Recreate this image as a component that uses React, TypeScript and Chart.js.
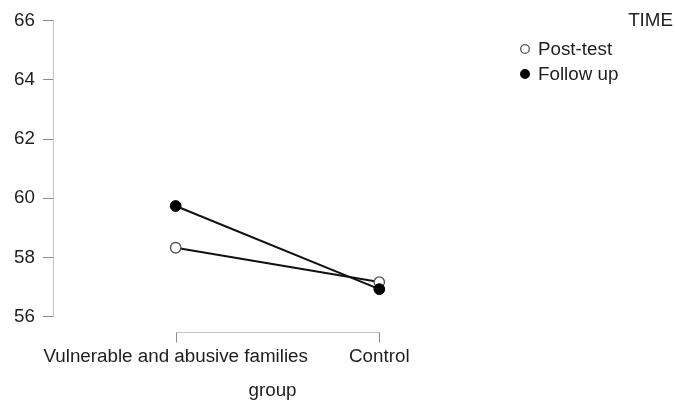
import React, { useEffect, useRef } from "react";
import { Chart, registerables } from "chart.js";

Chart.register(...registerables);

const groups = ["Vulnerable and abusive families", "Control"];
const postTest = [58.33, 57.17];
const followUp = [59.74, 56.93];
const yMin = 56;
const yMax = 66;
const yStep = 2;
const seriesNames = ["Post-test", "Follow up"];
const legendTitle = "TIME";
const xTitle = "group";

const FONT = "'Liberation Sans', Arial, Helvetica, sans-serif";
const FSIZE = 18.8;
const TEXT = "#1e1e1e";

const xAxisPlugin = {
  id: "customXAxis",
  afterDraw(chart: any) {
    const { ctx, chartArea } = chart;
    const xs = chart.scales.x;
    const y0 = Math.round(chartArea.bottom + 15) + 0.5;
    const px = groups.map((_, i) => Math.round(xs.getPixelForValue(i)) + 0.5);
    ctx.save();
    ctx.lineWidth = 1;
    ctx.strokeStyle = "#c4c4c4";
    ctx.beginPath();
    ctx.moveTo(px[0], y0);
    ctx.lineTo(px[px.length - 1], y0);
    ctx.stroke();
    ctx.strokeStyle = "#8a8a8a";
    px.forEach((p) => {
      ctx.beginPath();
      ctx.moveTo(p, y0);
      ctx.lineTo(p, y0 + 10);
      ctx.stroke();
    });
    ctx.restore();
  },
};

const legendPlugin = {
  id: "customLegend",
  afterDraw(chart: any) {
    const { ctx, chartArea } = chart;
    ctx.save();
    ctx.font = `${FSIZE}px ${FONT}`;
    ctx.fillStyle = TEXT;
    ctx.textBaseline = "middle";
    ctx.textAlign = "right";
    ctx.fillText(legendTitle, chart.width - 2, 20.5);
    const cx = chartArea.right + 33;
    const rows = [49, 74];
    chart.data.datasets.forEach((ds: any, i: number) => {
      const idx = seriesNames.indexOf(ds.label);
      const y = rows[idx];
      ctx.beginPath();
      ctx.arc(cx, y, 4.3, 0, Math.PI * 2);
      ctx.fillStyle = ds.pointBackgroundColor;
      ctx.fill();
      ctx.lineWidth = 1.3;
      ctx.strokeStyle = ds.pointBorderColor;
      ctx.stroke();
      ctx.fillStyle = TEXT;
      ctx.textAlign = "left";
      ctx.fillText(ds.label, cx + 13, y + 0.5);
    });
    ctx.restore();
  },
};

export default function App() {
  const ref = useRef<HTMLCanvasElement | null>(null);

  useEffect(() => {
    document.body.style.margin = "0";
    const canvas = ref.current;
    if (!canvas) return;
    Chart.defaults.font.family = FONT;
    const chart = new Chart(canvas, {
      type: "line",
      data: {
        datasets: [
          {
            label: seriesNames[0],
            data: postTest.map((v, i) => ({ x: i, y: v })),
            borderColor: "#111111",
            borderWidth: 2,
            pointBackgroundColor: "#ffffff",
            pointBorderColor: "#555555",
            pointBorderWidth: 1.4,
            pointRadius: 5.2,
            order: 1,
            clip: false,
          } as any,
          {
            label: seriesNames[1],
            data: followUp.map((v, i) => ({ x: i, y: v })),
            borderColor: "#111111",
            borderWidth: 2,
            pointBackgroundColor: "#000000",
            pointBorderColor: "#000000",
            pointBorderWidth: 1,
            pointRadius: 5.4,
            order: 0,
            clip: false,
          } as any,
        ],
      },
      options: {
        responsive: false,
        animation: false,
        layout: { padding: { left: 0, top: 20.7, right: 183, bottom: 0 } },
        plugins: { legend: { display: false }, tooltip: { enabled: false } },
        scales: {
          x: {
            type: "linear",
            min: -0.6026,
            max: 1.5535,
            grid: { display: false, drawTicks: false },
            border: { display: false },
            afterFit: (s: any) => {
              s.height = 86.3;
            },
            afterBuildTicks: (s: any) => {
              s.ticks = groups.map((_, i) => ({ value: i }));
            },
            ticks: {
              autoSkip: false,
              maxRotation: 0,
              padding: 28.5,
              color: TEXT,
              font: { size: FSIZE },
              callback: (v: any) => groups[Number(v)] ?? "",
            },
            title: {
              display: true,
              text: xTitle,
              color: TEXT,
              font: { size: FSIZE },
              padding: { top: 0, bottom: 0.5 },
            },
          },
          y: {
            type: "linear",
            min: yMin,
            max: yMax,
            afterFit: (s: any) => {
              s.width = 53;
            },
            grid: {
              drawOnChartArea: false,
              drawTicks: true,
              tickLength: 10,
              color: "#8a8a8a",
            },
            border: { display: true, color: "#c4c4c4", width: 1 },
            ticks: {
              stepSize: yStep,
              padding: 8,
              color: TEXT,
              font: { size: FSIZE },
            },
          },
        },
      },
      plugins: [xAxisPlugin, legendPlugin],
    });
    return () => chart.destroy();
  }, []);

  return (
    <div style={{ width: 675, height: 403 }}>
      <canvas ref={ref} width={675} height={403} style={{ display: "block" }} />
    </div>
  );
}
